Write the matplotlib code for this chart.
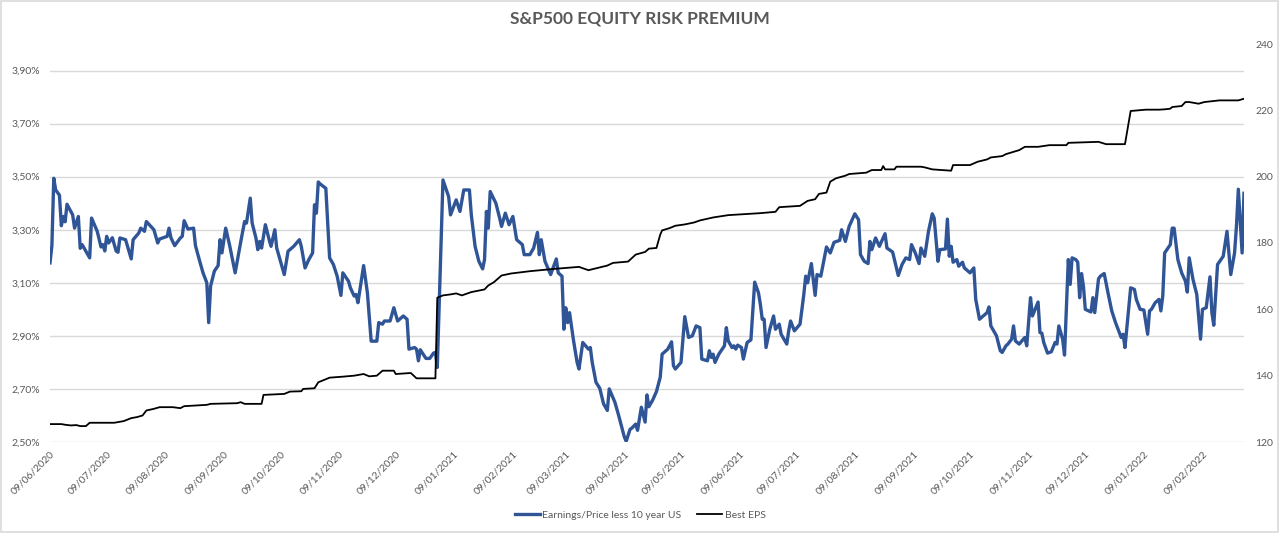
import matplotlib
matplotlib.use("Agg")
import matplotlib.pyplot as plt
import matplotlib.dates as mdates
import pandas as pd
from matplotlib.ticker import FuncFormatter, FixedLocator
from matplotlib.patches import Rectangle

# ---------------- data ----------------
erp_dates = [
    "2020-06-09", "2020-06-10", "2020-06-11", "2020-06-12", "2020-06-14", "2020-06-15", "2020-06-16",
    "2020-06-17", "2020-06-18", "2020-06-21", "2020-06-22", "2020-06-24", "2020-06-25", "2020-06-26",
    "2020-06-30", "2020-07-01", "2020-07-04", "2020-07-06", "2020-07-07", "2020-07-08", "2020-07-09",
    "2020-07-10", "2020-07-12", "2020-07-14", "2020-07-15", "2020-07-16", "2020-07-19", "2020-07-22",
    "2020-07-23", "2020-07-26", "2020-07-27", "2020-07-29", "2020-07-30", "2020-08-03", "2020-08-05",
    "2020-08-06", "2020-08-10", "2020-08-11", "2020-08-12", "2020-08-14", "2020-08-17", "2020-08-18",
    "2020-08-19", "2020-08-21", "2020-08-24", "2020-08-25", "2020-08-27", "2020-08-29", "2020-08-31",
    "2020-09-01", "2020-09-02", "2020-09-04", "2020-09-06", "2020-09-07", "2020-09-08", "2020-09-10",
    "2020-09-12", "2020-09-15", "2020-09-18", "2020-09-20", "2020-09-21", "2020-09-23", "2020-09-24",
    "2020-09-26", "2020-09-27", "2020-09-28", "2020-09-29", "2020-10-01", "2020-10-03", "2020-10-04",
    "2020-10-06", "2020-10-07", "2020-10-09", "2020-10-11", "2020-10-13", "2020-10-16", "2020-10-19",
    "2020-10-20", "2020-10-22", "2020-10-24", "2020-10-26", "2020-10-27", "2020-10-28", "2020-10-29",
    "2020-10-30", "2020-11-02", "2020-11-04", "2020-11-06", "2020-11-08", "2020-11-10", "2020-11-11",
    "2020-11-14", "2020-11-15", "2020-11-17", "2020-11-18", "2020-11-19", "2020-11-22", "2020-11-24",
    "2020-11-26", "2020-11-29", "2020-11-30", "2020-12-02", "2020-12-03", "2020-12-06", "2020-12-08",
    "2020-12-10", "2020-12-13", "2020-12-15", "2020-12-16", "2020-12-19", "2020-12-20", "2020-12-21",
    "2020-12-22", "2020-12-25", "2020-12-27", "2020-12-29", "2020-12-30", "2020-12-31", "2021-01-03",
    "2021-01-06", "2021-01-07", "2021-01-10", "2021-01-12", "2021-01-14", "2021-01-17", "2021-01-18",
    "2021-01-20", "2021-01-22", "2021-01-24", "2021-01-25", "2021-01-26", "2021-01-27", "2021-01-28",
    "2021-01-31", "2021-02-02", "2021-02-03", "2021-02-05", "2021-02-07", "2021-02-09", "2021-02-11",
    "2021-02-14", "2021-02-15", "2021-02-18", "2021-02-20", "2021-02-22", "2021-02-23", "2021-02-24",
    "2021-02-26", "2021-03-01", "2021-03-04", "2021-03-05", "2021-03-07", "2021-03-08", "2021-03-09",
    "2021-03-10", "2021-03-11", "2021-03-13", "2021-03-15", "2021-03-16", "2021-03-18", "2021-03-21",
    "2021-03-22", "2021-03-23", "2021-03-25", "2021-03-27", "2021-03-29", "2021-03-31", "2021-04-01",
    "2021-04-04", "2021-04-06", "2021-04-09", "2021-04-10", "2021-04-12", "2021-04-13", "2021-04-15",
    "2021-04-16", "2021-04-18", "2021-04-20", "2021-04-21", "2021-04-22", "2021-04-24", "2021-04-26",
    "2021-04-28", "2021-04-29", "2021-05-02", "2021-05-04", "2021-05-05", "2021-05-06", "2021-05-09",
    "2021-05-11", "2021-05-13", "2021-05-15", "2021-05-17", "2021-05-19", "2021-05-20", "2021-05-23",
    "2021-05-24", "2021-05-25", "2021-05-26", "2021-05-27", "2021-05-29", "2021-06-01", "2021-06-02",
    "2021-06-03", "2021-06-05", "2021-06-06", "2021-06-07", "2021-06-08", "2021-06-10", "2021-06-11",
    "2021-06-13", "2021-06-15", "2021-06-17", "2021-06-19", "2021-06-20", "2021-06-21", "2021-06-22",
    "2021-06-23", "2021-06-25", "2021-06-27", "2021-06-28", "2021-06-30", "2021-07-01", "2021-07-03",
    "2021-07-04", "2021-07-05", "2021-07-06", "2021-07-08", "2021-07-11", "2021-07-13", "2021-07-14",
    "2021-07-15", "2021-07-17", "2021-07-19", "2021-07-20", "2021-07-22", "2021-07-25", "2021-07-27",
    "2021-07-29", "2021-08-01", "2021-08-02", "2021-08-04", "2021-08-06", "2021-08-09", "2021-08-11",
    "2021-08-12", "2021-08-14", "2021-08-16", "2021-08-17", "2021-08-18", "2021-08-20", "2021-08-22",
    "2021-08-25", "2021-08-26", "2021-08-29", "2021-09-01", "2021-09-03", "2021-09-05", "2021-09-07",
    "2021-09-08", "2021-09-10", "2021-09-12", "2021-09-13", "2021-09-15", "2021-09-17", "2021-09-19",
    "2021-09-20", "2021-09-22", "2021-09-23", "2021-09-26", "2021-09-27", "2021-09-28", "2021-09-29",
    "2021-09-30", "2021-10-02", "2021-10-03", "2021-10-05", "2021-10-06", "2021-10-09", "2021-10-11",
    "2021-10-12", "2021-10-14", "2021-10-15", "2021-10-18", "2021-10-19", "2021-10-20", "2021-10-23",
    "2021-10-25", "2021-10-26", "2021-10-28", "2021-10-29", "2021-10-31", "2021-11-01", "2021-11-02",
    "2021-11-03", "2021-11-04", "2021-11-07", "2021-11-08", "2021-11-10", "2021-11-11", "2021-11-14",
    "2021-11-15", "2021-11-16", "2021-11-17", "2021-11-19", "2021-11-21", "2021-11-23", "2021-11-24",
    "2021-11-25", "2021-11-27", "2021-11-28", "2021-11-30", "2021-12-01", "2021-12-02", "2021-12-04",
    "2021-12-05", "2021-12-06", "2021-12-07", "2021-12-08", "2021-12-09", "2021-12-12", "2021-12-13",
    "2021-12-14", "2021-12-16", "2021-12-17", "2021-12-19", "2021-12-21", "2021-12-23", "2021-12-25",
    "2021-12-28", "2021-12-29", "2021-12-30", "2022-01-02", "2022-01-04", "2022-01-05", "2022-01-07",
    "2022-01-09", "2022-01-11", "2022-01-12", "2022-01-13", "2022-01-15", "2022-01-17", "2022-01-18",
    "2022-01-19", "2022-01-20", "2022-01-23", "2022-01-24", "2022-01-25", "2022-01-27", "2022-01-29",
    "2022-01-31", "2022-02-01", "2022-02-02", "2022-02-04", "2022-02-06", "2022-02-08", "2022-02-09",
    "2022-02-11", "2022-02-13", "2022-02-14", "2022-02-15", "2022-02-17", "2022-02-20", "2022-02-22",
    "2022-02-24", "2022-02-26", "2022-02-27", "2022-02-28", "2022-03-02", "2022-03-03",
]
erp_values = [
    3.175, 3.24, 3.494, 3.45, 3.43, 3.315, 3.35,
    3.33, 3.396, 3.356, 3.306, 3.35, 3.23, 3.244,
    3.194, 3.344, 3.294, 3.235, 3.244, 3.22, 3.275,
    3.25, 3.27, 3.22, 3.215, 3.269, 3.2625, 3.19,
    3.2625, 3.2875, 3.306, 3.294, 3.331, 3.30, 3.25,
    3.265, 3.275, 3.306, 3.27, 3.24, 3.269, 3.275,
    3.334, 3.3025, 3.306, 3.24, 3.1875, 3.1375, 3.10,
    2.95, 3.0875, 3.144, 3.165, 3.2625, 3.2125, 3.306,
    3.244, 3.1375, 3.256, 3.331, 3.325, 3.419, 3.325,
    3.269, 3.225, 3.256, 3.231, 3.319, 3.2625, 3.2375,
    3.30, 3.231, 3.181, 3.131, 3.219, 3.2375, 3.2625,
    3.2375, 3.156, 3.1875, 3.2125, 3.394, 3.3625, 3.48,
    3.4725, 3.456, 3.194, 3.169, 3.125, 3.0525, 3.1375,
    3.106, 3.081, 3.05, 3.056, 3.025, 3.165, 3.0625,
    2.88, 2.88, 2.95, 2.944, 2.956, 2.956, 3.006,
    2.956, 2.975, 2.9625, 2.85, 2.856, 2.85, 2.806,
    2.8475, 2.815, 2.815, 2.835, 2.8375, 2.781, 3.4875,
    3.425, 3.356, 3.4125, 3.369, 3.45, 3.45, 3.356,
    3.2375, 3.181, 3.1525, 3.1875, 3.369, 3.306, 3.444,
    3.40, 3.344, 3.3125, 3.3625, 3.319, 3.35, 3.2625,
    3.244, 3.206, 3.206, 3.231, 3.29, 3.206, 3.2625,
    3.181, 3.131, 3.19, 3.1375, 3.125, 2.925, 3.006,
    2.95, 2.9875, 2.8875, 2.80, 2.775, 2.875, 2.85,
    2.856, 2.80, 2.725, 2.7025, 2.644, 2.619, 2.70,
    2.65, 2.60, 2.519, 2.5025, 2.5475, 2.5525, 2.5675,
    2.544, 2.631, 2.575, 2.6775, 2.633, 2.658, 2.69,
    2.744, 2.831, 2.85, 2.8775, 2.7875, 2.775, 2.80,
    2.9725, 2.894, 2.90, 2.9375, 2.931, 2.8125, 2.806,
    2.844, 2.819, 2.831, 2.80, 2.831, 2.8625, 2.931,
    2.881, 2.856, 2.8625, 2.85, 2.865, 2.856, 2.8125,
    2.875, 2.885, 3.1025, 3.0625, 3.019, 2.9625, 2.9625,
    2.856, 2.925, 2.975, 2.925, 2.944, 2.906, 2.881,
    2.869, 2.919, 2.956, 2.919, 2.944, 3.056, 3.125,
    3.10, 3.1725, 3.0525, 3.131, 3.125, 3.235, 3.2125,
    3.2525, 3.26, 3.30, 3.256, 3.3125, 3.36, 3.3375,
    3.206, 3.181, 3.1725, 3.256, 3.225, 3.269, 3.2375,
    3.285, 3.231, 3.216, 3.1275, 3.169, 3.194, 3.1875,
    3.244, 3.2125, 3.1725, 3.231, 3.20, 3.294, 3.36,
    3.344, 3.181, 3.225, 3.2275, 3.34, 3.20, 3.2375,
    3.1775, 3.1875, 3.1625, 3.1775, 3.156, 3.1375, 3.156,
    3.0375, 2.9625, 2.969, 2.9875, 3.009, 2.9375, 2.90,
    2.844, 2.8375, 2.8625, 2.869, 2.8875, 2.9375, 2.881,
    2.875, 2.869, 2.894, 2.8625, 3.044, 2.975, 3.0275,
    2.9125, 2.91, 2.875, 2.835, 2.84, 2.875, 2.869,
    2.9375, 2.8875, 2.8275, 3.1875, 3.094, 3.194, 3.1875,
    3.1775, 3.044, 3.135, 3.0875, 3.0, 2.99, 3.044,
    2.9875, 3.115, 3.125, 3.135, 3.0625, 2.994, 2.95,
    2.894, 2.906, 2.856, 3.081, 3.075, 3.0375, 3.0,
    2.9975, 2.906, 2.994, 3.0, 3.025, 3.0375, 2.994,
    3.05, 3.2125, 3.244, 3.306, 3.306, 3.1875, 3.1375,
    3.106, 3.065, 3.194, 3.1125, 3.056, 2.8875, 3.0,
    3.006, 3.1225, 2.9875, 2.94, 3.169, 3.20, 3.294,
    3.131, 3.2125, 3.3125, 3.4525, 3.2125, 3.4375,
]

eps_dates = [
    "2020-06-09", "2020-06-15", "2020-06-17", "2020-06-20", "2020-06-23", "2020-06-25", "2020-06-28",
    "2020-06-30", "2020-07-13", "2020-07-18", "2020-07-22", "2020-07-25", "2020-07-28", "2020-07-30",
    "2020-08-03", "2020-08-06", "2020-08-13", "2020-08-17", "2020-08-19", "2020-08-31", "2020-09-02",
    "2020-09-16", "2020-09-18", "2020-09-20", "2020-09-29", "2020-09-30", "2020-10-11", "2020-10-14",
    "2020-10-20", "2020-10-21", "2020-10-27", "2020-10-29", "2020-11-04", "2020-11-11", "2020-11-17",
    "2020-11-22", "2020-11-25", "2020-11-29", "2020-12-02", "2020-12-08", "2020-12-09", "2020-12-17",
    "2020-12-20", "2020-12-30", "2020-12-31", "2021-01-03", "2021-01-07", "2021-01-10", "2021-01-13",
    "2021-01-18", "2021-01-25", "2021-01-27", "2021-01-30", "2021-02-03", "2021-02-08", "2021-02-18",
    "2021-03-03", "2021-03-16", "2021-03-21", "2021-03-28", "2021-03-31", "2021-04-03", "2021-04-11",
    "2021-04-15", "2021-04-20", "2021-04-22", "2021-04-26", "2021-04-28", "2021-04-29", "2021-05-03",
    "2021-05-06", "2021-05-11", "2021-05-16", "2021-05-19", "2021-05-26", "2021-06-03", "2021-06-12",
    "2021-06-20", "2021-06-28", "2021-06-30", "2021-07-11", "2021-07-15", "2021-07-19", "2021-07-21",
    "2021-07-25", "2021-07-27", "2021-07-30", "2021-08-04", "2021-08-06", "2021-08-15", "2021-08-18",
    "2021-08-23", "2021-08-24", "2021-08-25", "2021-08-30", "2021-08-31", "2021-09-13", "2021-09-15",
    "2021-09-19", "2021-09-29", "2021-09-30", "2021-10-09", "2021-10-13", "2021-10-18", "2021-10-20",
    "2021-10-26", "2021-10-28", "2021-11-01", "2021-11-04", "2021-11-07", "2021-11-14", "2021-11-20",
    "2021-11-29", "2021-11-30", "2021-12-16", "2021-12-19", "2021-12-20", "2021-12-30", "2022-01-02",
    "2022-01-10", "2022-01-17", "2022-01-20", "2022-01-23", "2022-01-24", "2022-01-27", "2022-01-29",
    "2022-01-31", "2022-02-02", "2022-02-07", "2022-02-10", "2022-02-18", "2022-02-28", "2022-03-03",
]
eps_values = [
    125.4, 125.4, 125.2, 125.0, 125.1, 124.8, 124.8,
    125.8, 125.8, 126.3, 127.2, 127.5, 128.0, 129.5,
    130.0, 130.5, 130.5, 130.2, 130.8, 131.2, 131.5,
    131.7, 132.0, 131.5, 131.5, 134.2, 134.5, 135.2,
    135.3, 136.0, 136.2, 138.0, 139.4, 139.7, 140.0,
    140.5, 139.8, 140.0, 141.5, 141.5, 140.5, 140.8,
    139.2, 139.2, 163.5, 164.2, 164.5, 164.8, 164.2,
    165.2, 166.0, 167.2, 168.2, 170.2, 170.8, 171.5,
    172.2, 172.8, 171.8, 172.8, 173.2, 174.0, 174.4,
    176.5, 177.3, 178.3, 178.5, 182.5, 183.8, 184.5,
    185.2, 185.6, 186.2, 186.8, 187.7, 188.4, 188.7,
    189.0, 189.4, 190.8, 191.2, 192.7, 193.2, 194.8,
    195.2, 198.5, 199.5, 200.3, 200.8, 201.2, 202.0,
    202.0, 203.2, 202.2, 202.2, 203.0, 203.0, 202.8,
    202.2, 201.8, 203.5, 203.5, 204.5, 205.2, 205.8,
    206.2, 206.8, 207.5, 208.0, 209.0, 209.0, 209.5,
    209.5, 210.2, 210.5, 210.0, 209.8, 209.8, 219.8,
    220.2, 220.2, 220.3, 220.5, 221.0, 221.2, 221.3,
    222.5, 222.5, 222.0, 222.5, 223.0, 223.0, 223.5,
]

left_ticks = [2.5, 2.7, 2.9, 3.1, 3.3, 3.5, 3.7, 3.9]
right_ticks = [120, 140, 160, 180, 200, 220, 240]
title = "S&P500 EQUITY RISK PREMIUM"
erp_label = "Earnings/Price less 10 year US"
eps_label = "Best EPS"

# ---------------- style ----------------
FONT = "Lato"
GRAY = "#595959"
GRID = "#d9d9d9"
BLUE = "#2F5597"

plt.rcParams["font.family"] = [FONT, "DejaVu Sans"]

erp_x = pd.to_datetime(erp_dates)
eps_x = pd.to_datetime(eps_dates)

fig = plt.figure(figsize=(12.8, 5.33), dpi=100)
fig.patch.set_facecolor("white")
fig.patches.append(Rectangle((0.0005, 0.001), 0.998, 0.997, transform=fig.transFigure,
                             fill=False, edgecolor=GRID, linewidth=1.2))

ax = fig.add_axes([50 / 1280, 1 - 442 / 533, 1194 / 1280, 398 / 533])
ax2 = ax.twinx()

ax.plot(erp_x, erp_values, color=BLUE, linewidth=2.4, solid_joinstyle="round", label=erp_label)
ax2.plot(eps_x, eps_values, color="black", linewidth=1.3, label=eps_label)

ax.set_xlim(pd.Timestamp("2020-06-09"), pd.Timestamp("2022-03-03"))
ax.set_ylim(2.5, 4.0)
ax2.set_ylim(120, 240)

ax.yaxis.set_major_locator(FixedLocator(left_ticks))
ax.yaxis.set_major_formatter(FuncFormatter(lambda v, p: f"{v:.2f}%".replace(".", ",")))
ax2.yaxis.set_major_locator(FixedLocator(right_ticks))
ax2.yaxis.set_major_formatter(FuncFormatter(lambda v, p: f"{v:.0f}"))

ax.xaxis.set_major_locator(mdates.MonthLocator(bymonthday=9))
ax.xaxis.set_major_formatter(mdates.DateFormatter("%d/%m/%Y"))

ax.grid(axis="y", color=GRID, linewidth=1.0)
ax.set_axisbelow(True)
for a in (ax, ax2):
    for s in a.spines.values():
        s.set_visible(False)
    a.tick_params(length=0, colors=GRAY, labelsize=7.5)

ax.tick_params(axis="y", pad=7)
ax2.tick_params(axis="y", pad=8)
ax.tick_params(axis="x", pad=5)
for lbl in ax.get_xticklabels():
    lbl.set_rotation(45)
    lbl.set_ha("right")
    lbl.set_va("top")
    lbl.set_rotation_mode("anchor")

fig.text(0.5, 1 - 18 / 533, title, ha="center", va="center", fontsize=12.5,
         fontweight="bold", color=GRAY)

h1, l1 = ax.get_legend_handles_labels()
h2, l2 = ax2.get_legend_handles_labels()
fig.legend(h1 + h2, l1 + l2, loc="center", bbox_to_anchor=(0.5, 1 - 515 / 533), ncol=2,
           frameon=False, fontsize=7.5, labelcolor=GRAY, handlelength=2.4,
           handletextpad=0.2, columnspacing=1.6)

fig.savefig("out.png", dpi=100, facecolor="white")
